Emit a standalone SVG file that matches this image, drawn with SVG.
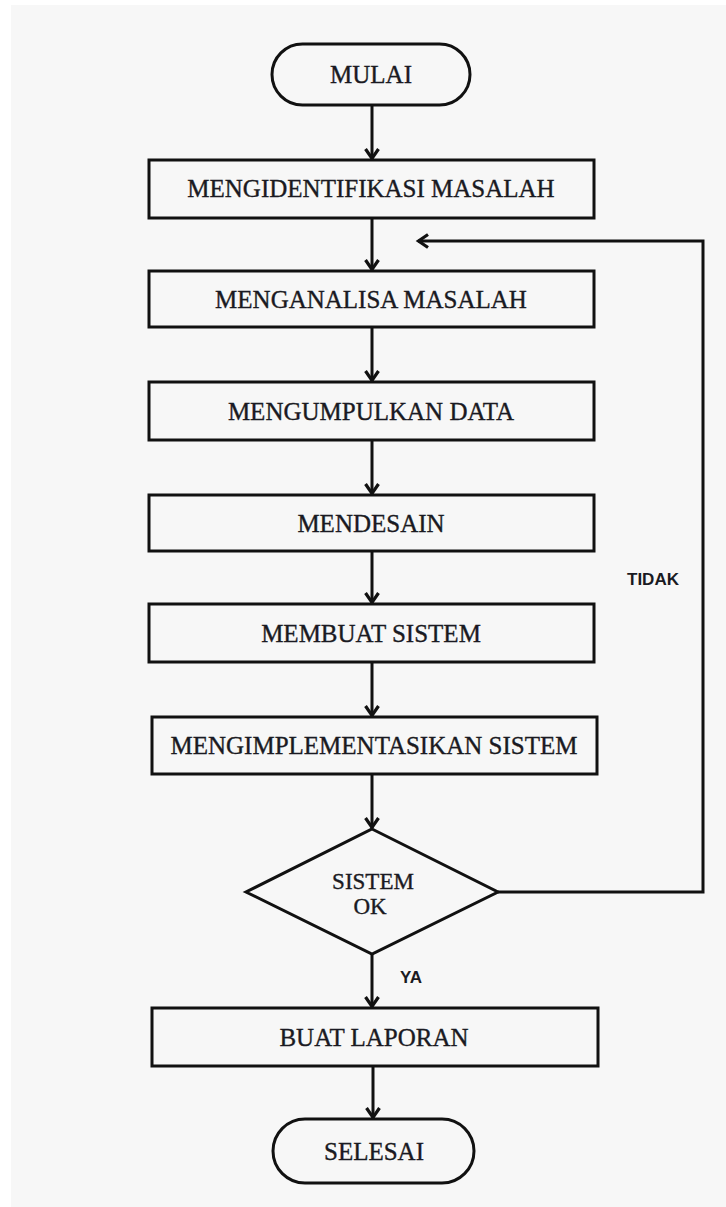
<svg xmlns="http://www.w3.org/2000/svg" width="726" height="1207" viewBox="0 0 726 1207">
  <style>
    .shape { fill: #f7f7f7; stroke: #111; stroke-width: 3; }
    .lbl { font-family: "Liberation Serif", "Times New Roman", serif; font-size: 25px; fill: #1a1a22; stroke: #1a1a22; stroke-width: 0.35; text-anchor: middle; }
    .dlbl { font-family: "Liberation Serif", "Times New Roman", serif; font-size: 23px; fill: #1a1a22; stroke: #1a1a22; stroke-width: 0.35; text-anchor: middle; }
    .tag { font-family: "Liberation Sans", Arial, sans-serif; font-size: 17px; font-weight: bold; fill: #1a1a22; }
    .flow { fill: none; stroke: #111; stroke-width: 3; marker-end: url(#head); }
  </style>
  <defs>
    <marker id="head" markerUnits="userSpaceOnUse" markerWidth="20" markerHeight="20" viewBox="-14 -10 18 20" refX="0" refY="0" orient="auto">
      <path d="M-10,-6.5 L-0.5,0 L-10,6.5" fill="none" stroke="#111" stroke-width="3.2" stroke-linejoin="miter"/>
    </marker>
  </defs>

  <!-- page -->
  <rect x="0" y="0" width="726" height="1207" fill="#ffffff"/>
  <rect x="11" y="5" width="715" height="1202" fill="#f7f7f7"/>

  <!-- connectors -->
  <g id="connectors">
    <path class="flow" d="M372,105 L372,159"/>
    <path class="flow" d="M372,218 L372,270"/>
    <path class="flow" d="M372,327 L372,381"/>
    <path class="flow" d="M372,440 L372,494"/>
    <path class="flow" d="M372,551 L372,603"/>
    <path class="flow" d="M372,662 L372,716"/>
    <path class="flow" d="M372,774 L372,828"/>
    <path class="flow" d="M372,954 L372,1007"/>
    <path class="flow" d="M373,1066 L373,1118"/>
    <path class="flow" d="M498,892 L703,892 L703,241 L418,241"/>
    <text class="tag" x="400" y="983">YA</text>
    <text class="tag" x="627" y="585">TIDAK</text>
  </g>

  <g id="start">
    <rect class="shape" x="272" y="44" width="198" height="61" rx="30.5"/>
    <text class="lbl" x="371" y="83">MULAI</text>
  </g>

  <g id="identify">
    <rect class="shape" x="149" y="160" width="445" height="58"/>
    <text class="lbl" x="371" y="197">MENGIDENTIFIKASI MASALAH</text>
  </g>

  <g id="analyse">
    <rect class="shape" x="149" y="271" width="445" height="56"/>
    <text class="lbl" x="371" y="308">MENGANALISA MASALAH</text>
  </g>

  <g id="collect">
    <rect class="shape" x="149" y="382" width="445" height="58"/>
    <text class="lbl" x="371" y="420">MENGUMPULKAN DATA</text>
  </g>

  <g id="design">
    <rect class="shape" x="149" y="495" width="445" height="56"/>
    <text class="lbl" x="371" y="532">MENDESAIN</text>
  </g>

  <g id="build">
    <rect class="shape" x="149" y="604" width="445" height="58"/>
    <text class="lbl" x="371" y="642">MEMBUAT SISTEM</text>
  </g>

  <g id="implement">
    <rect class="shape" x="152" y="717" width="445" height="57"/>
    <text class="lbl" x="374" y="754">MENGIMPLEMENTASIKAN SISTEM</text>
  </g>

  <g id="check">
    <polygon class="shape" points="372,829 498,892 372,954 246,892"/>
    <text class="dlbl" x="373" y="889">SISTEM</text>
    <text class="dlbl" x="370" y="914">OK</text>
  </g>

  <g id="report">
    <rect class="shape" x="152" y="1008" width="446" height="58"/>
    <text class="lbl" x="374" y="1046">BUAT LAPORAN</text>
  </g>

  <g id="end">
    <rect class="shape" x="273" y="1119" width="201" height="64" rx="32"/>
    <text class="lbl" x="374" y="1160">SELESAI</text>
  </g>
</svg>
